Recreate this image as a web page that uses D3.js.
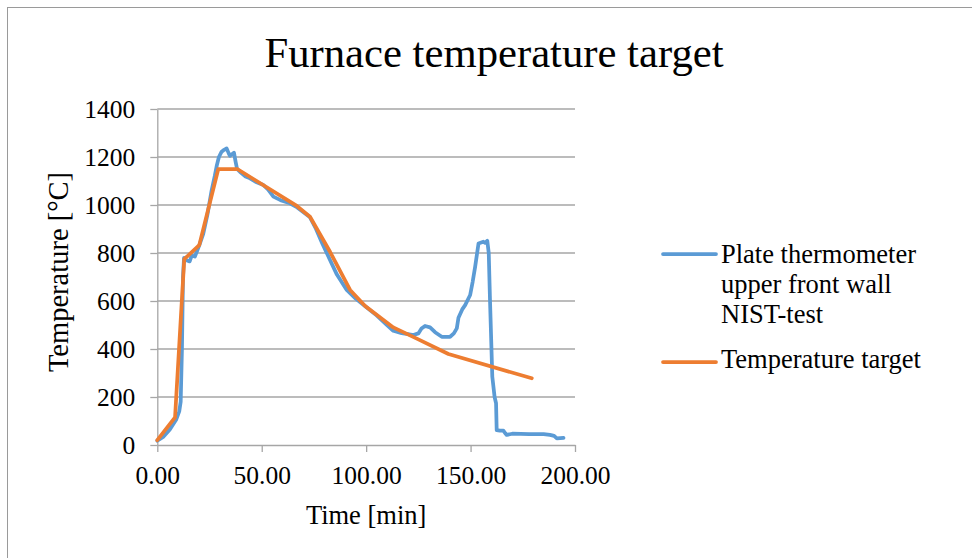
<!DOCTYPE html>
<html>
<head>
<meta charset="utf-8">
<script src="https://cdn.jsdelivr.net/npm/d3@7"></script>
<style>
  html, body { margin: 0; padding: 0; background: #fff; }
  svg { display: block; }
  text { font-family: "Liberation Serif", "Times New Roman", serif; fill: #000; }
</style>
</head>
<body>
<svg id="chart" width="972" height="558"></svg>
<script>
const title = "Furnace temperature target";
const xTitle = "Time [min]";
const yTitle = "Temperature [°C]";
const xTicks = [0, 50, 100, 150, 200];
const yTicks = [0, 200, 400, 600, 800, 1000, 1200, 1400];

const plateName = ["Plate thermometer", "upper front wall", "NIST-test"];
const plateTime = [0, 3, 6, 9, 10.5, 11.2, 11.8, 12.3, 12.8, 14, 15.5, 16.5, 18, 20, 22, 24, 26, 27.5, 28.5, 29.5, 30.8, 32, 33.2, 34.2, 34.8, 35.8, 36.7, 37.5, 38.2, 40, 42, 44.4, 47, 50.8, 53, 55.6, 59, 63.5, 67, 70, 73, 76, 79, 82.7, 86, 90.7, 95, 100, 105, 110, 113, 117, 120, 122.6, 125, 126.5, 128.2, 130.6, 133, 136.2, 140.2, 142, 143.4, 144.2, 146, 147.4, 149.8, 151, 152.2, 153.8, 156.1, 157, 158, 158.7, 159.3, 160.4, 161.5, 162.2, 162.5, 164, 165.7, 166.5, 167.3, 170, 178, 185, 188, 190, 191.3, 194.5];
const plateTemp = [18, 35, 65, 105, 140, 180, 400, 700, 780, 770, 765, 790, 785, 830, 880, 960, 1060, 1120, 1165, 1200, 1222, 1230, 1236, 1215, 1205, 1212, 1218, 1180, 1150, 1135, 1120, 1111, 1097, 1083, 1065, 1035, 1020, 1007, 990, 970, 950, 900, 840, 771, 710, 646, 610, 575, 540, 500, 476, 466, 462, 458, 465, 485, 496, 490, 470, 451, 451, 465, 486, 530, 565, 583, 625, 680, 743, 840, 847, 842, 851, 800, 604, 285, 200, 174, 62, 60, 60, 50, 42, 47, 45, 45, 42, 38, 28, 30];

const targetName = "Temperature target";
const targetTime = [0, 8.5, 12.9, 20.1, 29.2, 38.3, 66.8, 73.1, 82.7, 92.3, 99.5, 113, 125, 139.4, 179.3];
const targetTemp = [20, 115, 774, 833, 1150, 1150, 996, 951, 805, 646, 579, 490, 440, 379, 278];

const blue = "#5B9BD5", orange = "#ED7D31", grid = "#A6A6A6";

const svg = d3.select("#chart");
const pLeft = 157.3, pRight = 575, pTop = 109, pBottom = 445;
const x = d3.scaleLinear().domain([0, 200]).range([pLeft, pRight]);
const y = d3.scaleLinear().domain([0, 1400]).range([pBottom, pTop]);

// outer border (only top & left visible)
svg.append("rect").attr("x", 7.5).attr("y", 7.5).attr("width", 1000).attr("height", 1000)
  .attr("fill", "none").attr("stroke", "#9a9a9a").attr("stroke-width", 1);

// title
svg.append("text").attr("x", 494).attr("y", 67).attr("text-anchor", "middle")
  .attr("font-size", 42.7).text(title);

// gridlines
svg.append("g").selectAll("line").data(yTicks.filter(d => d > 0)).join("line")
  .attr("x1", pLeft).attr("x2", pRight).attr("y1", d => y(d)).attr("y2", d => y(d))
  .attr("stroke", grid).attr("stroke-width", 1.3);

// y axis
const yAxis = svg.append("g").attr("transform", `translate(${pLeft},0)`)
  .call(d3.axisLeft(y).tickValues(yTicks).tickSize(7).tickSizeOuter(0).tickPadding(15).tickFormat(d3.format("d")));
yAxis.select(".domain").attr("stroke", grid).attr("stroke-width", 1.3);
yAxis.selectAll(".tick line").attr("stroke", grid).attr("stroke-width", 1.3);
yAxis.selectAll(".tick text").attr("font-size", 25.5).attr("font-family", "Liberation Serif").attr("fill", "#000");

// x axis
const xAxis = svg.append("g").attr("transform", `translate(0,${pBottom})`)
  .call(d3.axisBottom(x).tickValues(xTicks).tickSize(7).tickSizeOuter(0).tickPadding(14).tickFormat(d3.format(".2f")));
xAxis.select(".domain").attr("stroke", grid).attr("stroke-width", 1.3);
xAxis.selectAll(".tick line").attr("stroke", grid).attr("stroke-width", 1.3);
xAxis.selectAll(".tick text").attr("font-size", 25.5).attr("font-family", "Liberation Serif").attr("fill", "#000");

// axis titles
svg.append("text").attr("x", (pLeft + pRight) / 2).attr("y", 524).attr("text-anchor", "middle")
  .attr("font-size", 26.5).text(xTitle);
svg.append("text").attr("transform", "translate(68,272) rotate(-90)").attr("text-anchor", "middle")
  .attr("font-size", 28.5).text(yTitle);

// lines
const line = d3.line().x(d => x(d[0])).y(d => y(d[1]));
const plateData = plateTime.map((t, i) => [t, plateTemp[i]]);
const targetData = targetTime.map((t, i) => [t, targetTemp[i]]);

svg.append("path").datum(plateData).attr("d", line).attr("fill", "none")
  .attr("stroke", blue).attr("stroke-width", 3.75).attr("stroke-linejoin", "round").attr("stroke-linecap", "round");
svg.append("path").datum(targetData).attr("d", line).attr("fill", "none")
  .attr("stroke", orange).attr("stroke-width", 3.75).attr("stroke-linejoin", "round").attr("stroke-linecap", "round");

// legend
const lg = svg.append("g");
lg.append("line").attr("x1", 663).attr("x2", 716).attr("y1", 254).attr("y2", 254)
  .attr("stroke", blue).attr("stroke-width", 3.75).attr("stroke-linecap", "round");
plateName.forEach((s, i) => {
  lg.append("text").attr("x", 721).attr("y", 263 + i * 30).attr("font-size", 26.5).text(s);
});
lg.append("line").attr("x1", 663).attr("x2", 716).attr("y1", 362).attr("y2", 362)
  .attr("stroke", orange).attr("stroke-width", 3.75).attr("stroke-linecap", "round");
lg.append("text").attr("x", 721).attr("y", 368).attr("font-size", 26.5).text(targetName);
</script>
</body>
</html>
